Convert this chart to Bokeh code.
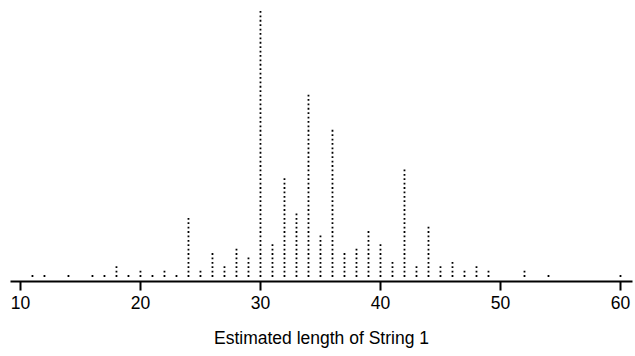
from bokeh.plotting import figure
from bokeh.models import ColumnDataSource, FixedTicker, Range1d
from bokeh.embed import file_html
from bokeh.resources import INLINE

# Estimated lengths (value) and how many people gave each estimate
lengths = [11, 12, 14, 16, 17, 18, 19, 20, 21, 22, 23, 24, 25, 26, 27, 28, 29, 30,
           31, 32, 33, 34, 35, 36, 37, 38, 39, 40, 41, 42, 43, 44, 45, 46, 47, 48,
           49, 52, 54, 60]
counts = [1, 1, 1, 1, 1, 3, 1, 2, 1, 2, 1, 14, 2, 6, 3, 7, 5, 61,
          8, 23, 15, 42, 10, 34, 6, 7, 11, 8, 4, 25, 3, 12, 3, 4, 2, 3,
          2, 2, 1, 1]
tick_values = [10, 20, 30, 40, 50, 60]

# Stack one dot per observation above its value
xs, ys = [], []
for v, n in zip(lengths, counts):
    for k in range(n):
        xs.append(v)
        ys.append(k)
src = ColumnDataSource(dict(x=xs, y=ys))

p = figure(width=635, height=356, output_backend="svg", toolbar_location=None,
           x_range=Range1d(9.17, 61.0), y_range=Range1d(-1.25, 62.6),
           min_border_left=10, min_border_right=3, min_border_top=0,
           min_border_bottom=75)

p.scatter("x", "y", source=src, marker="square", size=1.8,
          fill_color="black", line_color=None)

p.yaxis.visible = False
p.grid.visible = False
p.outline_line_color = None
p.background_fill_color = "white"
p.border_fill_color = "white"

ax = p.xaxis[0]
ax.ticker = FixedTicker(ticks=tick_values)
ax.minor_tick_line_color = None
ax.major_tick_in = 0
ax.major_tick_out = 9
ax.major_tick_line_width = 2
ax.axis_line_width = 2
ax.major_label_standoff = 5
ax.major_label_text_font = "Liberation Sans"
ax.major_label_text_font_size = "17.5px"
ax.major_label_text_color = "black"
ax.axis_label = "Estimated length of String 1"
ax.axis_label_text_font = "Liberation Sans"
ax.axis_label_text_font_size = "17.5px"
ax.axis_label_text_font_style = "normal"
ax.axis_label_text_color = "black"
ax.axis_label_standoff = 16

open("out.html", "w").write(file_html(p, INLINE))
